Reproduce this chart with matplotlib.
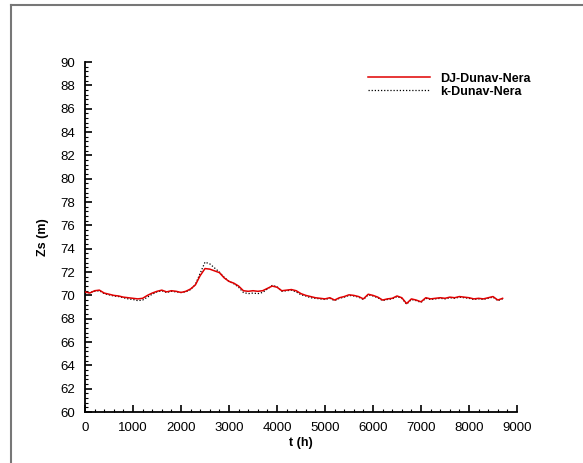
import matplotlib.pyplot as plt
from matplotlib.lines import Line2D
from matplotlib.ticker import MultipleLocator

# time (h)
t = [0, 100, 200, 300, 400, 500, 600, 700, 800, 900,
     1000, 1100, 1200, 1300, 1400, 1500, 1600, 1700, 1800, 1900,
     2000, 2100, 2200, 2300, 2400, 2500, 2600, 2700, 2800, 2900,
     3000, 3100, 3200, 3300, 3400, 3500, 3600, 3700, 3800, 3900,
     4000, 4100, 4200, 4300, 4400, 4500, 4600, 4700, 4800, 4900,
     5000, 5100, 5200, 5300, 5400, 5500, 5600, 5700, 5800, 5900,
     6000, 6100, 6200, 6300, 6400, 6500, 6600, 6700, 6800, 6900,
     7000, 7100, 7200, 7300, 7400, 7500, 7600, 7700, 7800, 7900,
     8000, 8100, 8200, 8300, 8400, 8500, 8600, 8700]

# DJ-Dunav-Nera (red)
zs_dj = [70.3, 70.2, 70.4, 70.45, 70.2, 70.1, 70.0, 69.95, 69.85, 69.8,
         69.75, 69.7, 69.75, 70.0, 70.2, 70.35, 70.45, 70.3, 70.4, 70.35,
         70.25, 70.35, 70.55, 70.9, 71.7, 72.3, 72.25, 72.1, 71.95, 71.5,
         71.2, 71.05, 70.8, 70.4, 70.35, 70.4, 70.35, 70.4, 70.6, 70.8,
         70.7, 70.4, 70.45, 70.5, 70.4, 70.15, 70.0, 69.9, 69.8, 69.75,
         69.7, 69.8, 69.6, 69.8, 69.9, 70.05, 70.0, 69.9, 69.7, 70.1,
         70.0, 69.85, 69.6, 69.7, 69.75, 69.95, 69.8, 69.3, 69.7, 69.6,
         69.45, 69.8, 69.7, 69.75, 69.8, 69.75, 69.85, 69.8, 69.9, 69.85,
         69.8, 69.7, 69.75, 69.7, 69.8, 69.9, 69.6, 69.75]

# k-Dunav-Nera (black dotted)
zs_k = [70.2, 70.25, 70.35, 70.4, 70.15, 70.05, 69.95, 69.9, 69.8, 69.7,
        69.65, 69.55, 69.6, 69.85, 70.1, 70.3, 70.4, 70.25, 70.35, 70.3,
        70.25, 70.3, 70.5, 70.95, 71.9, 72.85, 72.7, 72.35, 72.0, 71.55,
        71.2, 71.0, 70.7, 70.25, 70.15, 70.2, 70.15, 70.25, 70.55, 70.85,
        70.75, 70.35, 70.4, 70.45, 70.3, 70.05, 69.95, 69.8, 69.75, 69.7,
        69.65, 69.75, 69.55, 69.75, 69.85, 70.0, 69.95, 69.85, 69.65, 70.05,
        69.95, 69.8, 69.55, 69.65, 69.7, 69.9, 69.75, 69.25, 69.65, 69.55,
        69.4, 69.75, 69.65, 69.7, 69.75, 69.7, 69.8, 69.75, 69.85, 69.8,
        69.75, 69.65, 69.7, 69.65, 69.75, 69.85, 69.55, 69.7]

plt.rcParams['font.family'] = ['Liberation Sans', 'DejaVu Sans']

fig = plt.figure(figsize=(5.83, 4.63), dpi=100)
ax = fig.add_axes([0.1458, 0.110, 0.741, 0.756])

l_k, = ax.plot(t, zs_k, color='black', linestyle=(0, (1, 1.5)), linewidth=0.9, zorder=2)
l_dj, = ax.plot(t, zs_dj, color='#e00000', linewidth=1.1, zorder=3)

ax.set_xlim(0, 9000)
ax.set_ylim(60, 90)
ax.xaxis.set_major_locator(MultipleLocator(1000))
ax.xaxis.set_minor_locator(MultipleLocator(200))
ax.yaxis.set_major_locator(MultipleLocator(2))
ax.yaxis.set_minor_locator(MultipleLocator(0.4))

for s in ['top', 'right']:
    ax.spines[s].set_visible(False)
for s in ['left', 'bottom']:
    ax.spines[s].set_linewidth(1.3)

ax.tick_params(which='major', direction='in', length=5, width=1.2, labelsize=9.5, pad=7)
ax.tick_params(which='minor', direction='in', length=2.5, width=0.8)

ax.set_xlabel('t (h)', fontsize=9, fontweight='bold', labelpad=2)
ax.set_ylabel('Zs (m)', fontsize=9, fontweight='bold', labelpad=8)

ax.legend([l_dj, l_k], ['DJ-Dunav-Nera', 'k-Dunav-Nera'], loc='upper left',
          bbox_to_anchor=(0.655, 0.97), frameon=False, handlelength=5,
          handletextpad=0.8, labelspacing=0.1, borderpad=0, borderaxespad=0,
          prop={'weight': 'bold', 'size': 9})

# outer gray frame (left and top only)
fig.add_artist(Line2D([11 / 583, 11 / 583], [0, 1 - 5 / 463], color='#777777', linewidth=1.5))
fig.add_artist(Line2D([11 / 583, 1], [1 - 5 / 463, 1 - 5 / 463], color='#777777', linewidth=1.5))

fig.savefig('out.png', dpi=100)
